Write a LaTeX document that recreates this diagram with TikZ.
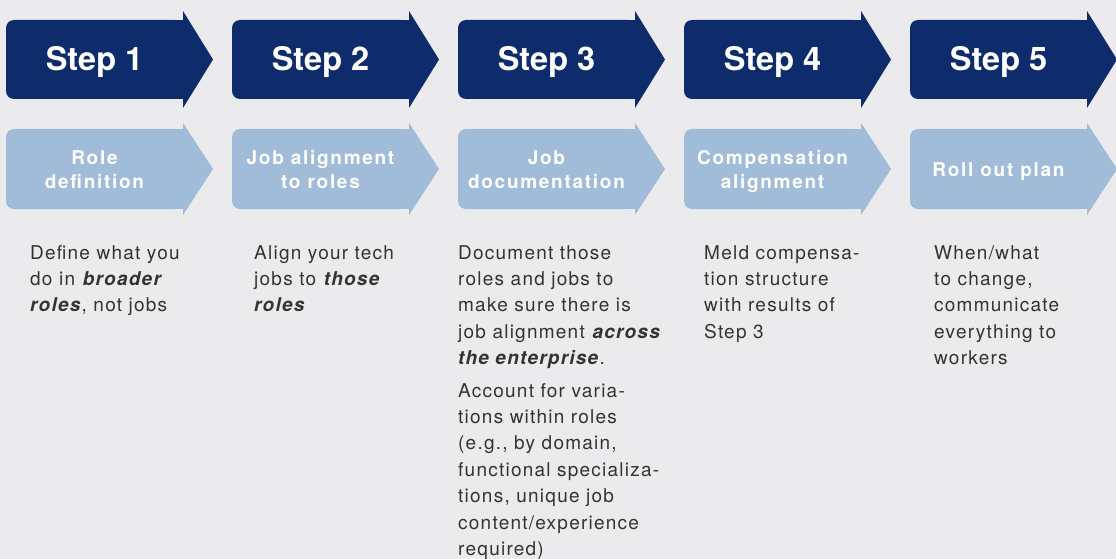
\documentclass[tikz,border=0pt]{standalone}
\usepackage{fontspec}
\setmainfont{TeX Gyre Heros}
\newfontfamily\titlefont{TeX Gyre Heros}
\newfontfamily\labelfont{TeX Gyre Heros}[LetterSpace=9]
\newfontfamily\bodyfont{TeX Gyre Heros}[LetterSpace=6.5]
\definecolor{navy}{HTML}{0E2B6B}
\definecolor{pale}{HTML}{A0BCD8}
\definecolor{bg}{HTML}{EBEBED}
\definecolor{ink}{HTML}{333333}
\newcommand{\bitext}[1]{\textbf{\textit{#1}}}
\begin{document}
\begin{tikzpicture}[x=1pt,y=-1pt,
  steptitle/.style={font=\titlefont\bfseries\fontsize{32.5}{36}\selectfont,
    text=white, anchor=base, inner sep=0pt},
  steplabel/.style={font=\labelfont\bfseries\fontsize{19}{23.3}\selectfont,
    text=white, align=center, anchor=base, inner sep=0pt},
  stepbody/.style={font=\bodyfont\fontsize{19}{26.4}\selectfont,
    text=ink, align=left, anchor=base west, inner sep=0pt}]
\fill[bg] (0,0) rectangle (1116,559);
\useasboundingbox (0,0) rectangle (1116,559);
% five pairs of chevrons, 226pt apart
\foreach \n in {1,...,5}{
  \begin{scope}[xshift={226pt*(\n-1)}]
    \fill[navy,rounded corners=8pt] (6,20) rectangle (183,99);
    \fill[navy] (100,20) rectangle (185,99);
    \fill[navy] (183,11) -- (213,59.5) -- (183,108) -- cycle;
    \fill[pale,rounded corners=8pt] (6,129) rectangle (183,209);
    \fill[pale] (100,129) rectangle (185,209);
    \fill[pale] (183,123) -- (213,169) -- (183,215) -- cycle;
    \node[steptitle] (title\n) at (94.5,71) {Step \n};
  \end{scope}}
% phase names (a multi-line node sits on the baseline of its last line)
\node[steplabel] (label1) at (94.5,188) {Role\\definition};
\node[steplabel] (label2) at (320.5,188) {Job alignment\\to roles};
\node[steplabel] (label3) at (546.5,188) {Job\\documentation};
\node[steplabel] (label4) at (772.5,188) {Compensation\\alignment};
\node[steplabel] (label5) at (998.5,176.5) {Roll out plan};
% descriptions, first baselines at 259
\node[stepbody] (body1) at (30,311.8) {Define what you\\do in \bitext{broader}\\\bitext{roles}, not jobs};
\node[stepbody] (body2) at (254,311.8) {Align your tech\\jobs to \bitext{those}\\\bitext{roles}};
\node[stepbody] (body3) at (458,555.4) {Document those\\roles and jobs to\\make sure there is\\job alignment \bitext{across}\\\bitext{the enterprise}.\\[6pt]Account for varia-\\tions within roles\\(e.g., by domain,\\functional specializa-\\tions, unique job\\content/experience\\required)};
\node[stepbody] (body4) at (704,338.2) {Meld compensa-\\tion structure\\with results of\\Step 3};
\node[stepbody] (body5) at (934,364.6) {When/what\\to change,\\communicate\\everything to\\workers};
\end{tikzpicture}
\end{document}
